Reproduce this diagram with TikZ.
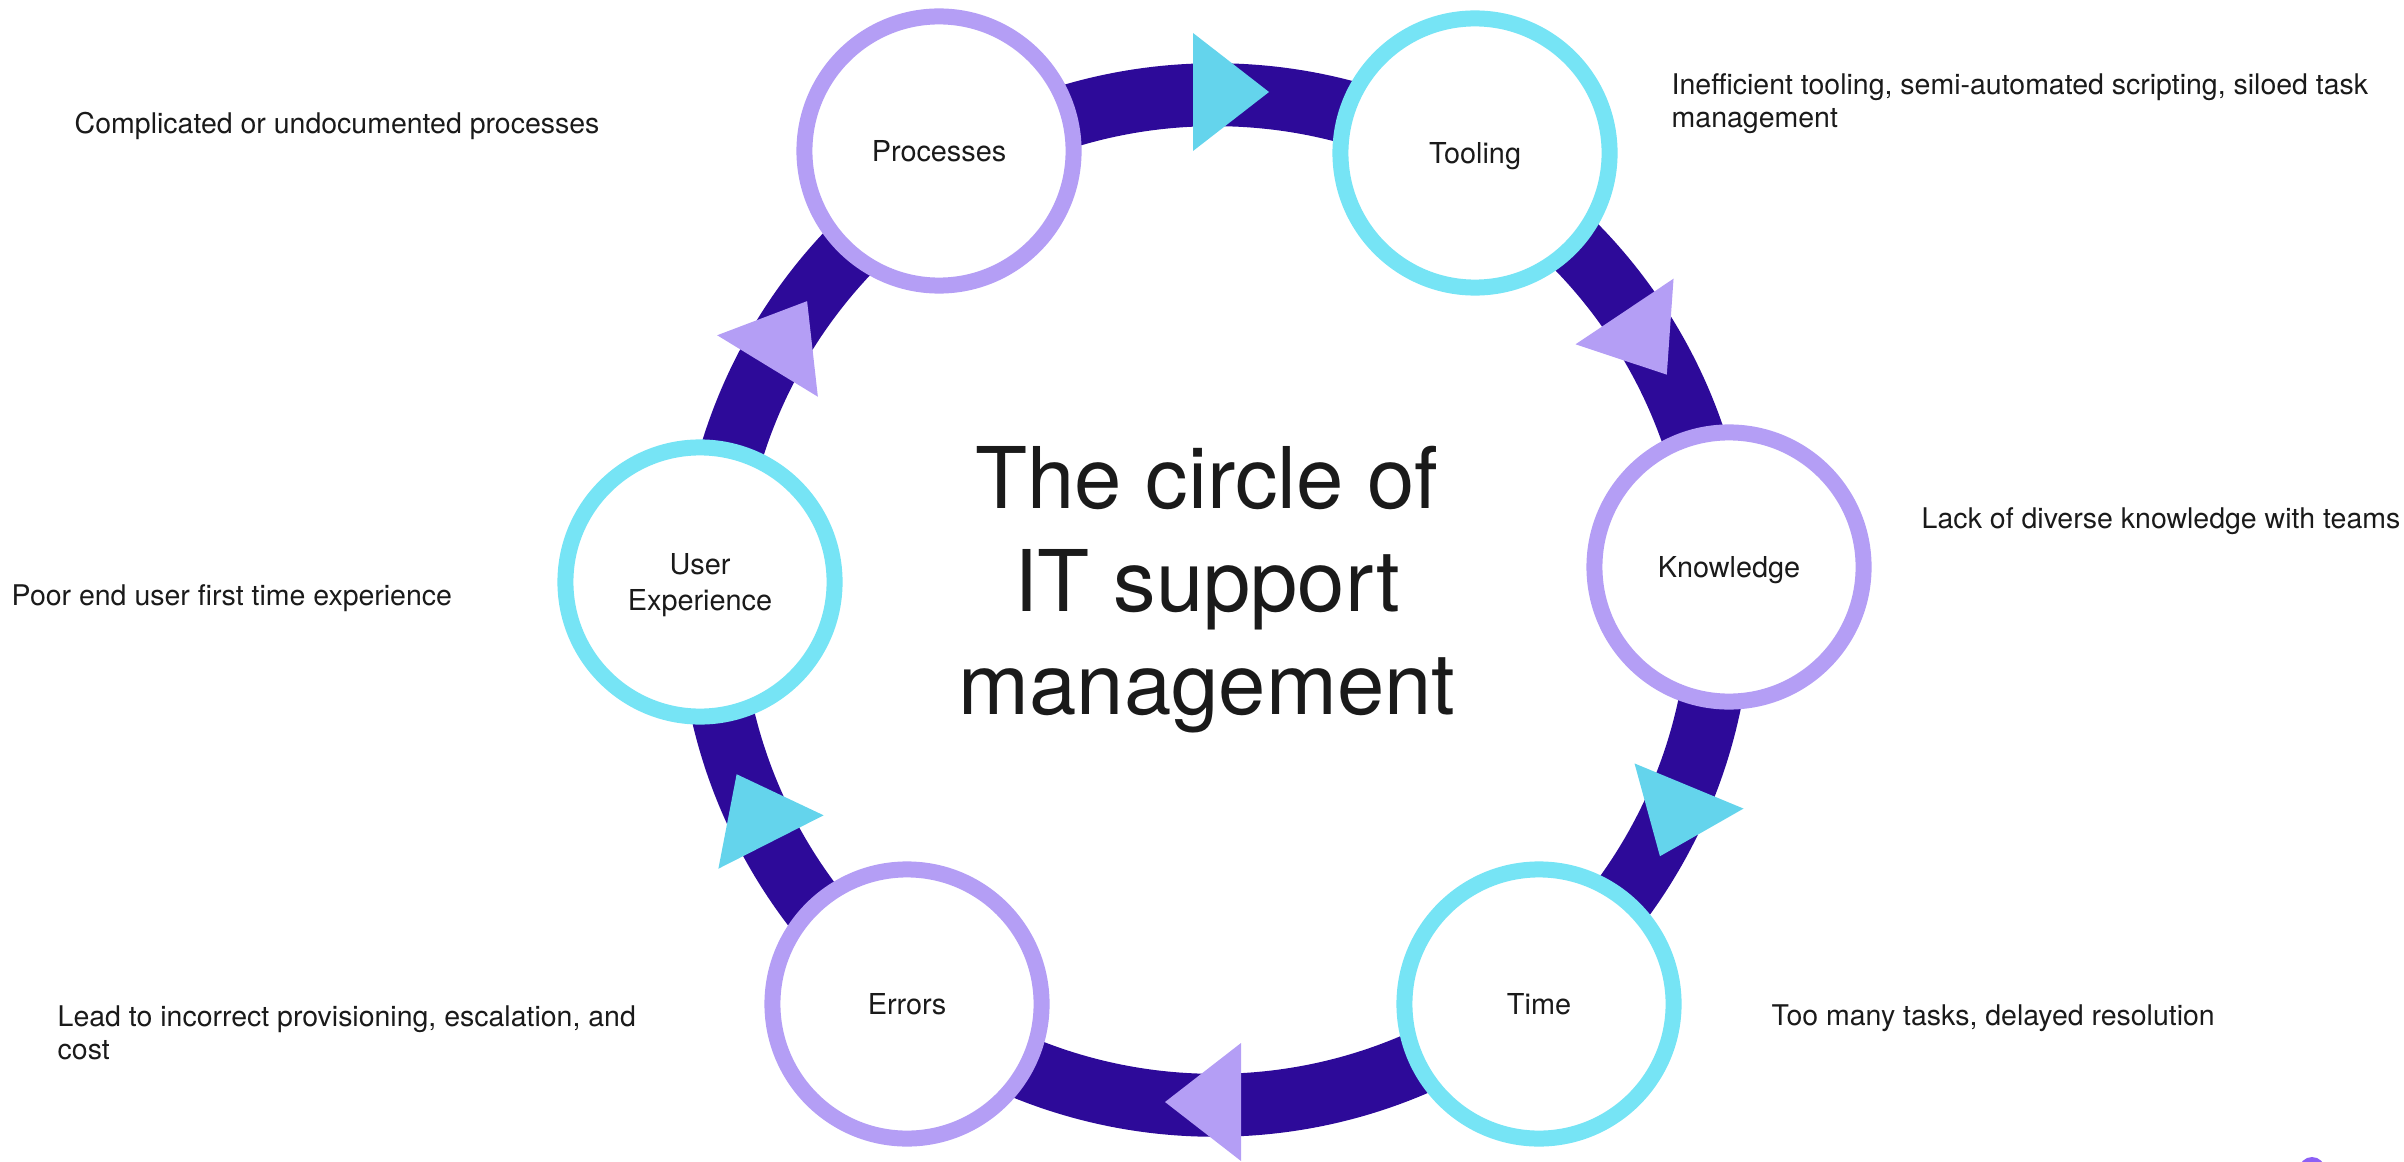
\documentclass[tikz,border=0pt]{standalone}
\usepackage{fontspec}
\setmainfont{TeX Gyre Heros}
\usetikzlibrary{positioning}

\definecolor{ringblue}{HTML}{2D0A99}
\definecolor{stagecyan}{HTML}{76E4F5}
\definecolor{tipcyan}{HTML}{64D4EC}
\definecolor{stagelilac}{HTML}{B49EF5}
\definecolor{inkgrey}{HTML}{1A1A1A}
\definecolor{dotpurple}{HTML}{8C5FF5}

\begin{document}
\begin{tikzpicture}[
  x=0.01cm, y=-0.01cm,
  font=\fontsize{8.1}{9.4}\selectfont,
  text=inkgrey,
  stage/.style={
    circle,
    draw,
    fill=white,
    line width=4.55pt,
    minimum size=2.69cm,
    inner sep=0pt,
    text depth=0pt,
    align=center,
    font=\fontsize{8.2}{10}\selectfont
  },
  cyanstage/.style={stage, draw=stagecyan},
  lilacstage/.style={stage, draw=stagelilac},
  title/.style={
    align=center,
    inner sep=0pt,
    font=\fontsize{24.2}{29.3}\selectfont
  },
  desc/.style={anchor=north west, inner sep=0pt, align=left},
  band/.style={draw=ringblue, line width=17.9pt}
]
\useasboundingbox (0,0) rectangle (2404,1161);

% Ring
\coordinate (hub) at (1215,600);
\draw[band] (hub) circle[radius=5.05cm];

% Pointers on the ring
\fill[tipcyan, shift={(1193,92)}, rotate=0] (0,-59) -- (76,0) -- (0,59) -- cycle;
\fill[stagelilac, shift={(1624.5,311.5)}, rotate=-56.2] (0,-59) -- (76,0) -- (0,59) -- cycle;
\fill[tipcyan, shift={(1689,786)}, rotate=-112.5] (0,-59) -- (76,0) -- (0,59) -- cycle;
\fill[stagelilac, shift={(1241,1102)}, rotate=180] (0,-59) -- (76,0) -- (0,59) -- cycle;
\fill[tipcyan, shift={(771,842)}, rotate=116.9] (0,-59) -- (76,0) -- (0,59) -- cycle;
\fill[stagelilac, shift={(767.5,366)}, rotate=58.6] (0,-59) -- (76,0) -- (0,59) -- cycle;

% Stages
\node[lilacstage] (proc) at (939,151) {Processes};
\node[cyanstage] (tool) at (1475,153) {Tooling};
\node[lilacstage] (know) at (1729,567) {Knowledge};
\node[cyanstage] (time) at (1539,1004) {Time};
\node[lilacstage] (err) at (907,1004) {Errors};
\node[cyanstage] (ux) at (700,582) {User\\Experience};

% Title
\node[title] (head) at (1207,590) {The circle of\\IT support\\management};

% Descriptions
\node[desc] (procdesc) at (74,112) {Complicated or undocumented processes};
\node[desc] (tooldesc) at (1671,73) {Inefficient tooling, semi-automated scripting, siloed task\\management};
\node[desc] (knowdesc) at (1921,507) {Lack of diverse knowledge with teams};
\node[desc] (uxdesc) at (11,584) {Poor end user first time experience};
\node[desc] (errdesc) at (57,1005) {Lead to incorrect provisioning, escalation, and\\cost};
\node[desc] (timedesc) at (1771,1004) {Too many tasks, delayed resolution};

% Corner dot
\node[circle, fill=dotpurple, inner sep=0pt, minimum size=0.26cm] (dot) at (2312,1170) {};

\end{tikzpicture}
\end{document}
